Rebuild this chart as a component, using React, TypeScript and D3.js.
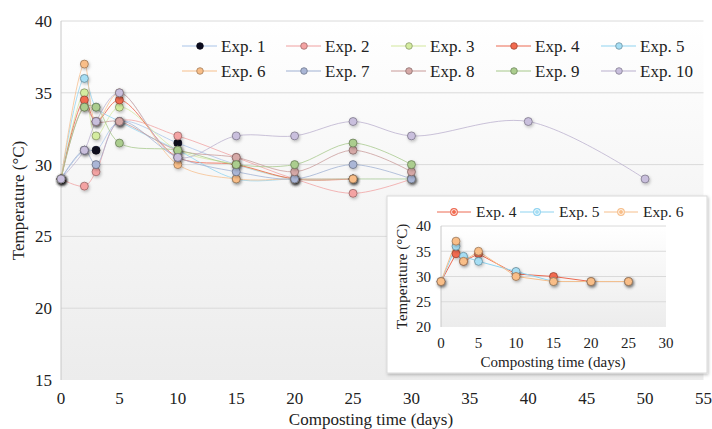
import * as d3 from "d3";

// ---- data ----
const seriesNames = ["Exp. 1", "Exp. 2", "Exp. 3", "Exp. 4", "Exp. 5", "Exp. 6", "Exp. 7", "Exp. 8", "Exp. 9", "Exp. 10"];
const days30 = [0, 2, 3, 5, 10, 15, 20, 25, 30];
const days25 = [0, 2, 3, 5, 10, 15, 20, 25];
const days50 = [0, 2, 3, 5, 10, 15, 20, 25, 30, 40, 50];

const exp1 = [29, 31, 31, 33, 31.5, 30, 29, 29, 29];
const exp2 = [29, 28.5, 29.5, 33, 32, 30.5, 29, 28, 29];
const exp3 = [29, 35, 32, 34, 31, 30, 29, 29, 29];
const exp4 = [29, 34.5, 33, 34.5, 30.5, 30, 29, 29];
const exp5 = [29, 36, 34, 33, 31, 29, 29, 29];
const exp6 = [29, 37, 33, 35, 30, 29, 29, 29];
const exp7 = [29, 31, 30, 33, 30.5, 29.5, 29, 30, 29];
const exp8 = [29, 34, 33, 33, 31, 30.5, 29.5, 31, 29.5];
const exp9 = [29, 34, 34, 31.5, 31, 30, 30, 31.5, 30];
const exp10 = [29, 31, 33, 35, 30.5, 32, 32, 33, 32, 33, 29];

const seriesDays = [days30, days30, days30, days25, days25, days25, days30, days30, days30, days50];
const seriesValues = [exp1, exp2, exp3, exp4, exp5, exp6, exp7, exp8, exp9, exp10];

const lineColors = ["#a9c4e8", "#f0a0a0", "#d2e79c", "#ec6a52", "#8fd3f0", "#f6bf8c", "#9fb0d2", "#c89a98", "#a6c88a", "#b9afcd"];
const markerColors = ["#0b0b1e", "#f4a3a3", "#d4eca0", "#f26b4f", "#a6def4", "#f9be88", "#aab6d6", "#d6a9a7", "#abcd8e", "#c9bfdd"];

const xTicks = [0, 5, 10, 15, 20, 25, 30, 35, 40, 45, 50, 55];
const yTicks = [15, 20, 25, 30, 35, 40];
const insetXTicks = [0, 5, 10, 15, 20, 25, 30];
const insetYTicks = [20, 25, 30, 35, 40];
const insetSeries = [3, 4, 5];

const FONT = "'Liberation Serif', 'DejaVu Serif', serif";

export default function App() {
  const W = 712;
  const H = 429;

  // ---- main scales ----
  const x = d3.scaleLinear().domain([0, 55]).range([61, 703.5]);
  const y = d3.scaleLinear().domain([15, 40]).range([380, 21]);

  // ---- inset scales ----
  const ix = d3.scaleLinear().domain([0, 30]).range([441, 666]);
  const iy = d3.scaleLinear().domain([20, 40]).range([327, 226]);

  const line = (sx: any, sy: any, days: number[]) =>
    d3
      .line<number>()
      .x((_, i) => sx(days[i]))
      .y((d) => sy(d))
      .curve(d3.curveCatmullRom.alpha(0.5));

  const legendCols = [200, 304, 409, 514, 619];
  const legendRows = [46, 71];

  const T = (p: any) => <text fontFamily={FONT} fill="#222" {...p} />;

  return (
    <svg width={W} height={H} style={{ position: "absolute", left: 0, top: 0, background: "#fff" }}>
      <defs>
        <linearGradient id="plotBg" x1="0" y1="0" x2="0" y2="1">
          <stop offset="0" stopColor="#ffffff" />
          <stop offset="1" stopColor="#ececec" />
        </linearGradient>
        <filter id="shadow" x="-20%" y="-20%" width="140%" height="140%">
          <feDropShadow dx="1" dy="1.5" stdDeviation="1.5" floodColor="#000" floodOpacity="0.25" />
        </filter>
      </defs>

      {/* main plot background */}
      <rect x={x(0)} y={y(40)} width={x(55) - x(0)} height={y(15) - y(40)} fill="url(#plotBg)" />
      {yTicks.slice(1).map((t) => (
        <line key={t} x1={x(0)} x2={x(55)} y1={y(t)} y2={y(t)} stroke="#dadada" strokeWidth={1} />
      ))}
      <line x1={x(0)} x2={x(0)} y1={y(40)} y2={y(15)} stroke="#c8c8c8" />

      {/* axis labels */}
      {yTicks.map((t) => (
        <T key={t} x={52} y={y(t)} dy="0.35em" textAnchor="end" fontSize={17}>
          {t}
        </T>
      ))}
      {xTicks.map((t) => (
        <T key={t} x={x(t)} y={404} textAnchor="middle" fontSize={17}>
          {t}
        </T>
      ))}
      <T x={371} y={425} textAnchor="middle" fontSize={17}>
        Composting time (days)
      </T>
      <T transform={`translate(24,${y(27.5)}) rotate(-90)`} textAnchor="middle" fontSize={17}>
        Temperature (°C)
      </T>

      {/* series */}
      {seriesValues.map((vals, s) => (
        <path
          key={"l" + s}
          d={line(x, y, seriesDays[s])(vals) || ""}
          fill="none"
          stroke={lineColors[s]}
          strokeWidth={s === 3 ? 1 : 0.9}
          strokeOpacity={0.85}
        />
      ))}
      {seriesValues.map((vals, s) => (
        <g key={"m" + s} filter="url(#shadow)">
          {vals.map((v, i) => (
            <circle
              key={i}
              cx={x(seriesDays[s][i])}
              cy={y(v)}
              r={4}
              fill={markerColors[s]}
              stroke={d3.color(markerColors[s])!.darker(1.6).formatHex()}
              strokeOpacity={0.7}
              strokeWidth={1}
            />
          ))}
        </g>
      ))}

      {/* legend */}
      {seriesNames.map((name, s) => {
        const cx = legendCols[s % 5];
        const cy = legendRows[Math.floor(s / 5)];
        return (
          <g key={"lg" + s}>
            <line x1={cx - 18} x2={cx + 17} y1={cy} y2={cy} stroke={lineColors[s]} strokeWidth={1} />
            <circle cx={cx} cy={cy} r={3.3} fill={markerColors[s]} stroke={d3.color(markerColors[s])!.darker(1.2).formatHex()} strokeWidth={0.8} />
            <T x={cx + 21} y={cy} dy="0.35em" fontSize={17}>
              {name}
            </T>
          </g>
        );
      })}

      {/* inset */}
      <g>
        <rect x={387} y={196} width={320} height={177} fill="#fff" stroke="#d9d9d9" strokeWidth={1} filter="url(#shadow)" />
        <rect x={ix(0)} y={iy(40)} width={ix(30) - ix(0)} height={iy(20) - iy(40)} fill="url(#plotBg)" />
        {insetYTicks.slice(1).map((t) => (
          <line key={t} x1={ix(0)} x2={ix(30)} y1={iy(t)} y2={iy(t)} stroke="#dadada" />
        ))}
        <line x1={ix(0)} x2={ix(0)} y1={iy(40)} y2={iy(20)} stroke="#c8c8c8" />
        {insetYTicks.map((t) => (
          <T key={t} x={431} y={iy(t)} dy="0.35em" textAnchor="end" fontSize={15}>
            {t}
          </T>
        ))}
        {insetXTicks.map((t) => (
          <T key={t} x={ix(t)} y={iy(20) + 21} textAnchor="middle" fontSize={15}>
            {t}
          </T>
        ))}
        <T x={553} y={367} textAnchor="middle" fontSize={15}>
          Composting time (days)
        </T>
        <T transform={`translate(407,${iy(30)}) rotate(-90)`} textAnchor="middle" fontSize={15}>
          Temperature (°C)
        </T>
        {insetSeries.map((s) => (
          <path
            key={"il" + s}
            d={d3.line<number>().x((_, i) => ix(seriesDays[s][i])).y((d) => iy(d))(seriesValues[s]) || ""}
            fill="none"
            stroke={lineColors[s]}
            strokeWidth={1}
          />
        ))}
        {insetSeries.map((s) => (
          <g key={"im" + s} filter="url(#shadow)">
            {seriesValues[s].map((v, i) => (
              <circle
                key={i}
                cx={ix(seriesDays[s][i])}
                cy={iy(v)}
                r={4}
                fill={markerColors[s]}
                stroke={d3.color(markerColors[s])!.darker(1.6).formatHex()}
                strokeOpacity={0.7}
              />
            ))}
          </g>
        ))}
        {insetSeries.map((s, k) => {
          const cx = [454, 537, 621][k];
          const cy = 212;
          return (
            <g key={"ilg" + s}>
              <line x1={cx - 17} x2={cx + 17} y1={cy} y2={cy} stroke={lineColors[s]} strokeWidth={1} />
              <circle cx={cx} cy={cy} r={3.3} fill="#fff" stroke={lineColors[s]} strokeWidth={1.2} />
              <circle cx={cx} cy={cy} r={2} fill={markerColors[s]} />
              <T x={cx + 22} y={cy} dy="0.35em" fontSize={15.5}>
                {seriesNames[s]}
              </T>
            </g>
          );
        })}
      </g>
    </svg>
  );
}
